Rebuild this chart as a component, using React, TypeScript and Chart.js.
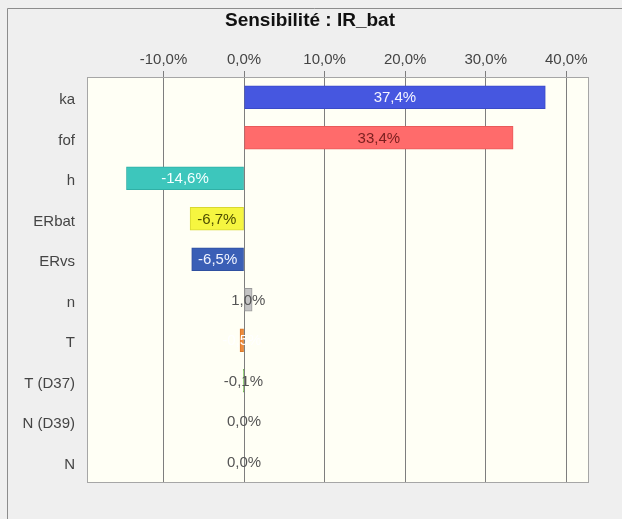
import React, { useEffect, useRef } from "react";
import { Chart, registerables } from "chart.js";

Chart.register(...registerables);

const titleText = "Sensibilité : IR_bat";
const categories = ["ka", "fof", "h", "ERbat", "ERvs", "n", "T", "T (D37)", "N (D39)", "N"];
const values = [37.4, 33.4, -14.6, -6.7, -6.5, 1.0, -0.5, -0.1, 0.0, 0.0];
const barColors = ["#4657E0", "#FF6B6B", "#3DC6BC", "#F6F640", "#3A5FB6", "#C4C4C4", "#F08A3A", "#6CBF48", "#8A6FD0", "#A0A0A0"];
const borderColors = ["#3A4AC8", "#E85A5A", "#30B0A6", "#D8D830", "#2F50A0", "#9A9A9A", "#D87828", "#5AA83A", "#7A60C0", "#909090"];
const labelColors = ["#F4F4FF", "#7A1F1F", "#F4FFFF", "#4E4E00", "#F0F4FF", "#555555", "#FFFFFF", "#555555", "#555555", "#555555"];
const xTicks = [-10, 0, 10, 20, 30, 40];
const xMin = -19.5;
const xMax = 42.7;

const fmt = (v: number) => v.toFixed(1).replace(".", ",") + "%";
const FONT = "'Liberation Sans', Arial, sans-serif";

const decorPlugin = {
  id: "decor",
  beforeDraw(chart: any) {
    const { ctx, chartArea, width, height } = chart;
    ctx.save();
    ctx.fillStyle = "#EFEFEF";
    ctx.fillRect(0, 0, width, height);
    ctx.strokeStyle = "#8C8C8C";
    ctx.lineWidth = 1;
    ctx.beginPath();
    ctx.moveTo(7.5, height);
    ctx.lineTo(7.5, 8.5);
    ctx.lineTo(width, 8.5);
    ctx.stroke();
    ctx.fillStyle = "#FFFFF5";
    ctx.fillRect(chartArea.left, chartArea.top, chartArea.right - chartArea.left, chartArea.bottom - chartArea.top);
    ctx.fillStyle = "#111111";
    ctx.font = "bold 19px " + FONT;
    ctx.textAlign = "center";
    ctx.textBaseline = "middle";
    ctx.fillText(titleText, 310, 21);
    ctx.restore();
  },
  afterDatasetsDraw(chart: any) {
    const { ctx } = chart;
    const meta = chart.getDatasetMeta(0);
    ctx.save();
    ctx.font = "15px " + FONT;
    ctx.textAlign = "center";
    ctx.textBaseline = "middle";
    meta.data.forEach((bar: any, i: number) => {
      const cx = (bar.x + bar.base) / 2;
      ctx.fillStyle = labelColors[i];
      ctx.fillText(fmt(values[i]), cx, bar.y + 1);
    });
    ctx.restore();
  },
  afterDraw(chart: any) {
    const { ctx, chartArea } = chart;
    ctx.save();
    ctx.strokeStyle = "#A6A6A6";
    ctx.lineWidth = 1;
    ctx.strokeRect(Math.round(chartArea.left) + 0.5, Math.round(chartArea.top) + 0.5, Math.round(chartArea.right - chartArea.left), Math.round(chartArea.bottom - chartArea.top));
    ctx.restore();
  },
};

export default function App() {
  const ref = useRef<HTMLCanvasElement | null>(null);
  useEffect(() => {
    if (!ref.current) return;
    const chart = new Chart(ref.current, {
      type: "bar",
      data: {
        labels: categories,
        datasets: [
          {
            data: values,
            backgroundColor: barColors,
            borderColor: borderColors,
            borderWidth: 1,
            borderSkipped: false,
            barThickness: 23,
          },
        ],
      },
      options: {
        indexAxis: "y",
        responsive: false,
        animation: false,
        layout: { padding: { left: 0, top: 0, right: 34, bottom: 37 } },
        plugins: { legend: { display: false }, title: { display: false }, tooltip: { enabled: false } },
        scales: {
          x: {
            position: "top",
            min: xMin,
            max: xMax,
            z: 1,
            afterFit(scale: any) {
              scale.height = 77;
            },
            afterBuildTicks(scale: any) {
              scale.ticks = xTicks.map((v) => ({ value: v }));
            },
            grid: { color: "#7E7E7E", lineWidth: 1, drawTicks: true, tickLength: 6 },
            border: { display: false },
            ticks: {
              padding: 2,
              color: "#444444",
              font: { family: FONT, size: 15 },
              callback: (v: any) => fmt(Number(v)),
            },
          },
          y: {
            afterFit(scale: any) {
              scale.width = 87;
            },
            grid: { display: false, drawTicks: false },
            border: { display: false },
            ticks: { padding: 12, labelOffset: 3, color: "#444444", font: { family: FONT, size: 15 } },
          },
        },
      },
      plugins: [decorPlugin],
    } as any);
    return () => chart.destroy();
  }, []);
  return (
    <div style={{ position: "absolute", left: 0, top: 0, width: 622, height: 519 }}>
      <canvas ref={ref} width={622} height={519} />
    </div>
  );
}
